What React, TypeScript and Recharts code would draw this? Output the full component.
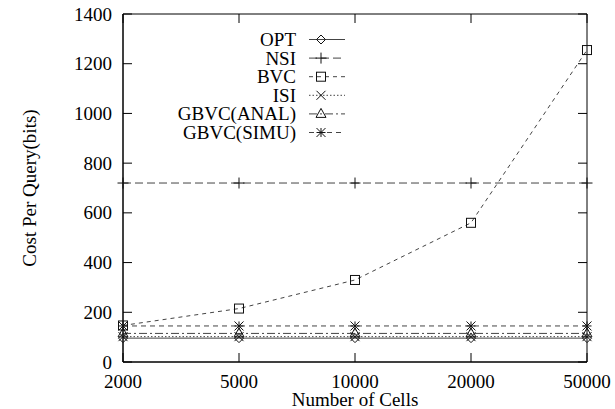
import React from "react";
import {
  LineChart, Line, XAxis, YAxis, ReferenceArea, Legend,
} from "recharts";

const CELLS = ["2000", "5000", "10000", "20000", "50000"];
const OPT = [96, 96, 96, 96, 96];
const NSI = [720, 720, 720, 720, 720];
const BVC = [147, 215, 330, 560, 1255];
const ISI = [102, 102, 102, 102, 102];
const GBVC_ANAL = [115, 115, 115, 115, 115];
const GBVC_SIMU = [145, 145, 145, 145, 145];
const Y_TICKS = [0, 200, 400, 600, 800, 1000, 1200, 1400];

const data = CELLS.map((c, i) => ({
  cells: c,
  opt: OPT[i],
  nsi: NSI[i],
  bvc: BVC[i],
  isi: ISI[i],
  anal: GBVC_ANAL[i],
  simu: GBVC_SIMU[i],
}));

type MarkKind = "diamond" | "plus" | "square" | "cross" | "triangle" | "star";

const SERIES: { key: string; name: string; dash?: string; mark: MarkKind }[] = [
  { key: "opt", name: "OPT", mark: "diamond" },
  { key: "nsi", name: "NSI", dash: "8 4", mark: "plus" },
  { key: "bvc", name: "BVC", dash: "4 4", mark: "square" },
  { key: "isi", name: "ISI", dash: "1.5 2", mark: "cross" },
  { key: "anal", name: "GBVC(ANAL)", dash: "8 3 2 3", mark: "triangle" },
  { key: "simu", name: "GBVC(SIMU)", dash: "5 4", mark: "star" },
];

const FONT = "'Liberation Serif', 'Times New Roman', serif";
const FS = 19;
const W = 615;
const H = 409;
const LEFT = 123;
const RIGHT = 587;
const TOP = 14;
const BOTTOM = 362;
const TICK = 9;
const LINE_COLOR = "#444";

function Marker({ kind, cx, cy }: { kind: MarkKind; cx: number; cy: number }) {
  const s = 4.5;
  const st = { stroke: "#111", strokeWidth: 1, fill: "none" };
  switch (kind) {
    case "diamond":
      return <polygon points={`${cx},${cy - s} ${cx + s},${cy} ${cx},${cy + s} ${cx - s},${cy}`} {...st} />;
    case "plus":
      return (
        <g {...st}>
          <line x1={cx - s - 1} y1={cy} x2={cx + s + 1} y2={cy} />
          <line x1={cx} y1={cy - s - 1} x2={cx} y2={cy + s + 1} />
        </g>
      );
    case "square":
      return <rect x={cx - s} y={cy - s} width={2 * s} height={2 * s} {...st} />;
    case "cross":
      return (
        <g {...st}>
          <line x1={cx - s} y1={cy - s} x2={cx + s} y2={cy + s} />
          <line x1={cx - s} y1={cy + s} x2={cx + s} y2={cy - s} />
        </g>
      );
    case "triangle":
      return <polygon points={`${cx},${cy - s - 1} ${cx + s + 0.5},${cy + s - 1} ${cx - s - 0.5},${cy + s - 1}`} {...st} />;
    case "star":
      return (
        <g {...st}>
          <line x1={cx - s} y1={cy} x2={cx + s} y2={cy} />
          <line x1={cx} y1={cy - s} x2={cx} y2={cy + s} />
          <line x1={cx - s} y1={cy - s} x2={cx + s} y2={cy + s} />
          <line x1={cx - s} y1={cy + s} x2={cx + s} y2={cy - s} />
        </g>
      );
  }
  return null;
}

function XTick(props: any) {
  const { payload } = props;
  const x = payload.coordinate;
  return (
    <g>
      <line x1={x} y1={BOTTOM} x2={x} y2={BOTTOM - TICK} stroke="#000" />
      <line x1={x} y1={TOP} x2={x} y2={TOP + TICK} stroke="#000" />
      <text x={x} y={381.5} textAnchor="middle" dominantBaseline="central"
        fontFamily={FONT} fontSize={FS} fill="#000">
        {payload.value}
      </text>
    </g>
  );
}

function YTick(props: any) {
  const { payload } = props;
  const y = payload.coordinate;
  return (
    <g>
      <line x1={LEFT} y1={y} x2={LEFT + TICK} y2={y} stroke="#000" />
      <line x1={RIGHT} y1={y} x2={RIGHT - TICK} y2={y} stroke="#000" />
      <text x={112} y={y} textAnchor="end" dominantBaseline="central"
        fontFamily={FONT} fontSize={FS} fill="#000">
        {payload.value}
      </text>
    </g>
  );
}

function LegendBox() {
  const rowY = (i: number) => 39.5 + i * 18.6;
  return (
    <svg width={W} height={160} style={{ display: "block" }}>
      {SERIES.map((s, i) => (
        <g key={s.key}>
          <text x={296} y={rowY(i)} textAnchor="end" dominantBaseline="central"
            fontFamily={FONT} fontSize={FS} fill="#000">
            {s.name}
          </text>
          <line x1={309} y1={rowY(i)} x2={345} y2={rowY(i)}
            stroke={LINE_COLOR} strokeDasharray={s.dash} />
          <Marker kind={s.mark} cx={321} cy={rowY(i)} />
        </g>
      ))}
    </svg>
  );
}

export default function App() {
  return (
    <div style={{ position: "absolute", left: 0, top: 0, width: W, height: H, background: "#fff" }}>
      <LineChart width={W} height={H} data={data}
        margin={{ top: TOP, right: W - RIGHT, bottom: 0, left: 0 }}>
        <XAxis dataKey="cells" type="category" height={H - BOTTOM} interval={0}
          tickLine={false} axisLine={{ stroke: "#000" }} tick={<XTick />}
          label={({ viewBox }: any) => (
            <text x={viewBox.x + viewBox.width / 2} y={399.5}
              textAnchor="middle" dominantBaseline="central"
              fontFamily={FONT} fontSize={FS} fill="#000">
              Number of Cells
            </text>
          )} />
        <YAxis type="number" domain={[0, 1400]} ticks={Y_TICKS} width={LEFT} interval={0}
          tickLine={false} axisLine={{ stroke: "#000" }} tick={<YTick />}
          label={({ viewBox }: any) => (
            <text x={viewBox.x + 29} y={viewBox.y + viewBox.height / 2}
              transform={`rotate(-90, ${viewBox.x + 29}, ${viewBox.y + viewBox.height / 2})`}
              textAnchor="middle" dominantBaseline="central"
              fontFamily={FONT} fontSize={FS} fill="#000">
              Cost Per Query(bits)
            </text>
          )} />
        <ReferenceArea x1="2000" x2="50000" y1={0} y2={1400}
          fill="none" stroke="#000" strokeWidth={1} ifOverflow="visible" />
        <Legend layout="vertical" align="center" verticalAlign="middle"
          content={() => <LegendBox />}
          wrapperStyle={{ position: "absolute", left: 0, top: 0, width: W, height: 160 }} />
        {SERIES.map((s) => (
          <Line key={s.key} dataKey={s.key} name={s.name} type="linear"
            stroke={LINE_COLOR} strokeWidth={1} strokeDasharray={s.dash}
            isAnimationActive={false} legendType="none"
            dot={(p: any) => <Marker key={`${s.key}-${p.index}`} kind={s.mark} cx={p.cx} cy={p.cy} />}
            activeDot={false} />
        ))}
      </LineChart>
    </div>
  );
}
